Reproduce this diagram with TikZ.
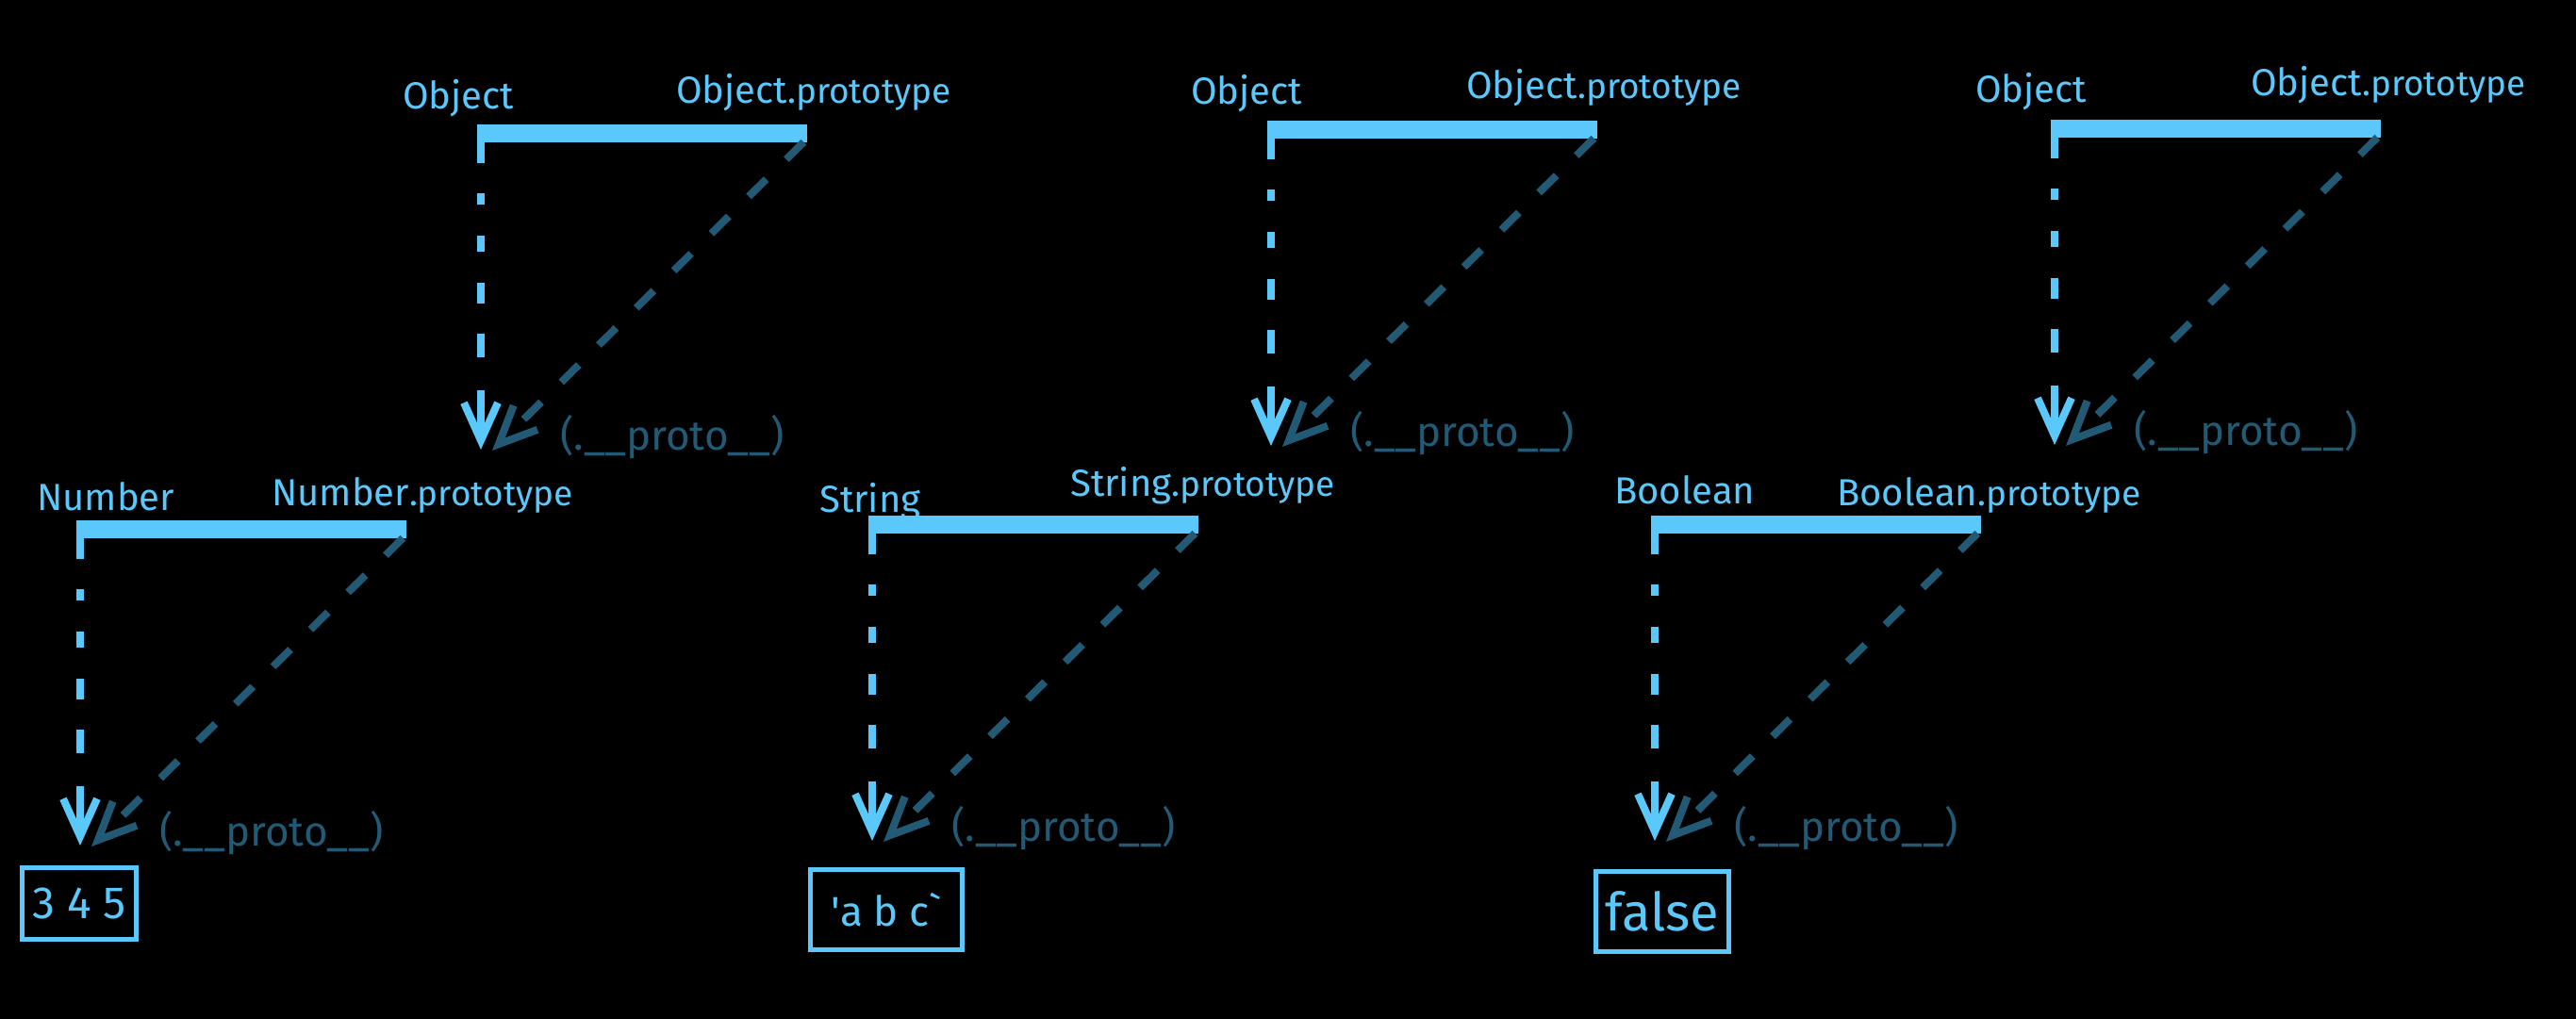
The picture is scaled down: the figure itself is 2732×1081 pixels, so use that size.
\documentclass[tikz,border=0pt]{standalone}
\usepackage{fontspec}
\setmainfont{Fira Sans}
\usetikzlibrary{arrows.meta}
\definecolor{jsblue}{HTML}{5AC8FA}
\definecolor{jsteal}{HTML}{225A75}
\tikzset{>={Straight Barb[length=40pt,width=36pt]}}
\tikzset{
  ctor/.style={text=jsblue, font=\fontsize{40}{40}\selectfont, anchor=base west, inner sep=0pt},
  protobar/.style={fill=jsblue, minimum width=350pt, minimum height=19pt, inner sep=0pt, anchor=west},
  newlink/.style={jsblue, line width=8pt, dash pattern=on 22pt off 32pt on 12pt off 33pt on 17pt off 33pt on 22pt off 32pt on 25pt off 35pt on 200pt off 1pt, ->},
  protolink/.style={jsteal, line width=8pt, dash pattern=on 26pt off 30pt, ->},
  protolbl/.style={text=jsteal, font=\fontsize{44}{44}\selectfont, inner sep=0pt},
  valbox/.style={draw=jsblue, line width=5pt, text=jsblue, inner sep=0pt}
}
\newcommand{\proto}{{\fontsize{37}{37}\selectfont.prototype}}

\begin{document}
\begin{tikzpicture}[x=1pt,y=-1pt]
\useasboundingbox (0,0) rectangle (2732,1081);
\fill[black] (0,0) rectangle (2732,1081);
% Object above Number
\node[ctor] (objA) at (427,115) {Object};
\node[ctor] (objprotoA) at (717,109) {Object\proto};
\node[protobar] (objbarA) at (506,141) {};
\coordinate (objdownA) at (510,477);
\coordinate (objsideA) at (522,478);
\draw[newlink] ([xshift=4pt]objbarA.south west) -- (objdownA);
\draw[protolink] ([xshift=-4pt]objbarA.south east) -- (objsideA);
\node[protolbl] (objlblA) at (713,464) {(.\_\_proto\_\_)};
% Number
\node[ctor] (num) at (39,541) {Number};
\node[ctor] (numproto) at (288,536) {Number\proto};
\node[protobar] (numbar) at (81,561) {};
\node[valbox, minimum width=121pt, minimum height=76pt, font=\fontsize{48}{48}\selectfont] (numval) at (84,958) {3 4 5};
\coordinate (numdown) at (85,897);
\coordinate (numside) at (97,898);
\draw[newlink] ([xshift=4pt]numbar.south west) -- (numdown);
\draw[protolink] ([xshift=-4pt]numbar.south east) -- (numside);
\node[protolbl] (numlbl) at (288,884) {(.\_\_proto\_\_)};
% Object above String
\node[ctor] (objB) at (1263,110) {Object};
\node[ctor] (objprotoB) at (1555,104) {Object\proto};
\node[protobar] (objbarB) at (1344,137) {};
\coordinate (objdownB) at (1348,473);
\coordinate (objsideB) at (1360,474);
\draw[newlink] ([xshift=4pt]objbarB.south west) -- (objdownB);
\draw[protolink] ([xshift=-4pt]objbarB.south east) -- (objsideB);
\node[protolbl] (objlblB) at (1551,460) {(.\_\_proto\_\_)};
% String
\node[ctor] (str) at (869,543) {String};
\node[ctor] (strproto) at (1135,526) {String\proto};
\node[protobar] (strbar) at (921,556) {};
\node[valbox, minimum width=161pt, minimum height=85pt, font=\fontsize{44}{44}\selectfont] (strval) at (940,965) {\textquotesingle a b c\textasciigrave};
\coordinate (strdown) at (925,892);
\coordinate (strside) at (937,893);
\draw[newlink] ([xshift=4pt]strbar.south west) -- (strdown);
\draw[protolink] ([xshift=-4pt]strbar.south east) -- (strside);
\node[protolbl] (strlbl) at (1128,879) {(.\_\_proto\_\_)};
% Object above Boolean
\node[ctor] (objC) at (2095,108) {Object};
\node[ctor] (objprotoC) at (2387,101) {Object\proto};
\node[protobar] (objbarC) at (2175,136) {};
\coordinate (objdownC) at (2179,472);
\coordinate (objsideC) at (2191,473);
\draw[newlink] ([xshift=4pt]objbarC.south west) -- (objdownC);
\draw[protolink] ([xshift=-4pt]objbarC.south east) -- (objsideC);
\node[protolbl] (objlblC) at (2382,459) {(.\_\_proto\_\_)};
% Boolean
\node[ctor] (bool) at (1712,534) {Boolean};
\node[ctor] (boolproto) at (1948,536) {Boolean\proto};
\node[protobar] (boolbar) at (1751,556) {};
\node[valbox, minimum width=141pt, minimum height=85pt, font=\fontsize{56}{56}\selectfont] (boolval) at (1763,967) {false};
\coordinate (booldown) at (1755,892);
\coordinate (boolside) at (1767,893);
\draw[newlink] ([xshift=4pt]boolbar.south west) -- (booldown);
\draw[protolink] ([xshift=-4pt]boolbar.south east) -- (boolside);
\node[protolbl] (boollbl) at (1958,879) {(.\_\_proto\_\_)};
\end{tikzpicture}
\end{document}
